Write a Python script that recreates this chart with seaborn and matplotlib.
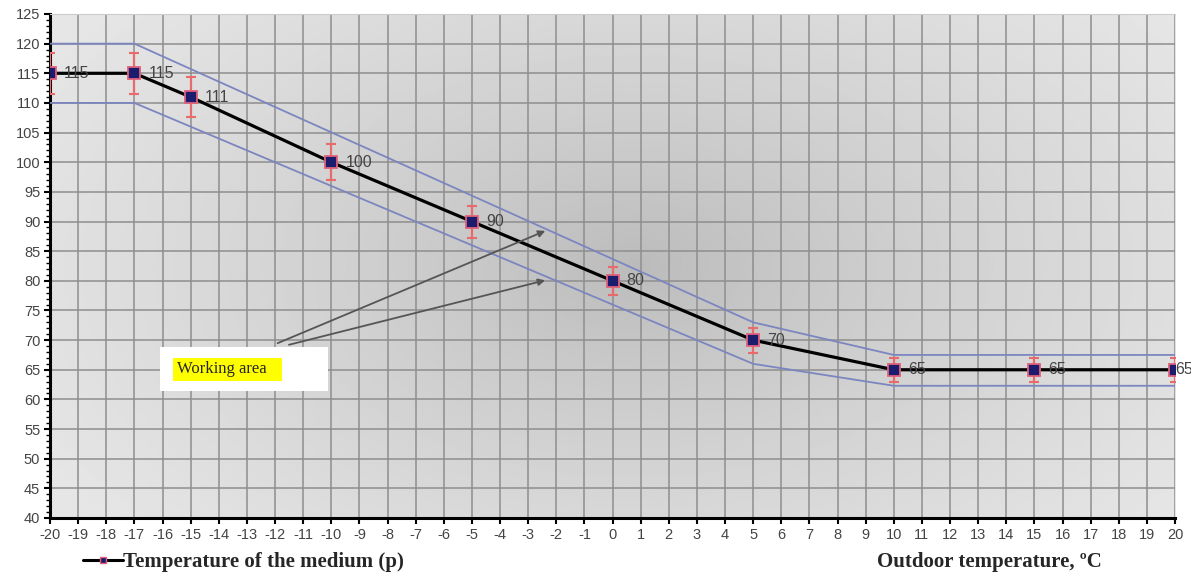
import numpy as np
import pandas as pd
import matplotlib.pyplot as plt
import seaborn as sns
from matplotlib.lines import Line2D

# outdoor temperature and medium temperature
outdoor = [-20, -17, -15, -10, -5, 0, 5, 10, 15, 20]
medium = [115, 115, 111, 100, 90, 80, 70, 65, 65, 65]
err = [3.5, 3.5, 3.4, 3.0, 2.7, 2.4, 2.1, 2.0, 2.0, 2.0]

# working area borders
band_x = [-20, -17, 5, 10, 20]
upper = [120, 120, 73, 67.5, 67.5]
lower = [110, 110, 66, 62.3, 62.3]

x_ticks = list(range(-20, 21))
y_ticks = list(range(40, 126, 5))

sns.set_style("white")
plt.rcParams["axes.unicode_minus"] = False
fig = plt.figure(figsize=(11.91, 5.76), dpi=100)
ax = fig.add_axes([0.042, 0.1007, 0.9446, 0.875])

# shaded background, darker in the middle
gx, gy = np.meshgrid(np.linspace(0, 1, 300), np.linspace(0, 1, 200))
d = np.sqrt(((gx - 0.52) / 0.6) ** 2 + ((gy - 0.5) / 0.8) ** 2)
shade = 0.73 + 0.17 * np.clip(d, 0, 1) ** 0.8
ax.imshow(shade, cmap="gray", vmin=0, vmax=1, extent=[0, 1, 0, 1],
          transform=ax.transAxes, aspect="auto", zorder=0, origin="lower")

df = pd.DataFrame({"x": outdoor, "y": medium})
band = pd.DataFrame({"x": band_x, "up": upper, "lo": lower})

sns.lineplot(data=band, x="x", y="up", ax=ax, color="#7b86c0", lw=1.3, zorder=3)
sns.lineplot(data=band, x="x", y="lo", ax=ax, color="#7b86c0", lw=1.3, zorder=3)
ax.errorbar(outdoor, medium, yerr=err, fmt="none", ecolor="#e86a6a",
            elinewidth=1.6, capsize=3.5, capthick=1.5, zorder=4)
sns.lineplot(data=df, x="x", y="y", ax=ax, color="black", lw=2.3, zorder=5,
             marker="s", markersize=8, markerfacecolor="#1c1c6e",
             markeredgecolor="#e0607a", markeredgewidth=1.3)

# value labels (the last one sits under its marker, as in the original)
for i, (xv, yv) in enumerate(zip(outdoor, medium)):
    last = i == len(outdoor) - 1
    ax.text(xv + (0.02 if last else 0.5), yv, str(yv), fontsize=11.5, color="#444444",
            family="Liberation Sans", va="center", ha="left",
            zorder=4.5 if last else 6, clip_on=False)

# arrows to the working area
ax.annotate("", xy=(-2.3, 88.6), xytext=(-12.0, 69.3),
            arrowprops=dict(arrowstyle="-|>", color="#555555", lw=1.3, mutation_scale=10), zorder=6)
ax.annotate("", xy=(-2.3, 80.2), xytext=(-11.6, 69.1),
            arrowprops=dict(arrowstyle="-|>", color="#555555", lw=1.3, mutation_scale=10), zorder=6)
ax.add_patch(plt.Rectangle((-16.1, 61.5), 6.0, 7.3, facecolor="white",
                           edgecolor="none", zorder=7))
ax.text(-15.5, 65.1, "Working area   ", fontsize=12, family="Liberation Serif",
        va="center", ha="left", zorder=8,
        bbox=dict(facecolor="#ffff00", edgecolor="none", pad=2.5))

ax.set_xlim(-20, 20)
ax.set_ylim(40, 125)
ax.set_xticks(x_ticks)
ax.set_yticks(y_ticks)
ax.set_yticks(range(40, 126), minor=True)
ax.grid(True, which="major", color="#8e8e8e", lw=1.1, zorder=1)
ax.set_axisbelow(True)
ax.tick_params(axis="both", which="major", labelsize=10.5, labelcolor="#444444",
               length=4, width=1.5, color="black", direction="out", pad=3)
ax.tick_params(axis="y", which="minor", length=3, width=1, color="black", left=True)
ax.tick_params(axis="x", bottom=True)
ax.tick_params(axis="y", left=True)
for lab in ax.get_xticklabels() + ax.get_yticklabels():
    lab.set_family("Liberation Sans")
ax.set_xlabel("")
ax.set_ylabel("")
for s in ["left", "bottom"]:
    ax.spines[s].set_color("black")
    ax.spines[s].set_linewidth(2.2)
ax.spines["top"].set_color("#cccccc")
ax.spines["top"].set_linewidth(0.8)
ax.spines["right"].set_visible(False)

handle = Line2D([], [], color="black", lw=2.2, marker="s", markersize=4,
                markerfacecolor="#1c1c6e", markeredgecolor="#e0607a")
fig.legend([handle], ["Temperature of the medium (p)"], loc="center left",
           bbox_to_anchor=(0.054, 0.024), frameon=False, handlelength=1.9,
           handletextpad=0.0, prop=dict(family="Liberation Serif", weight="bold", size=15))
fig.text(0.736, 0.024, "Outdoor temperature, \u00baC", family="Liberation Serif",
         weight="bold", fontsize=15, va="center", ha="left")

fig.savefig("out.png", dpi=100, facecolor="white")
